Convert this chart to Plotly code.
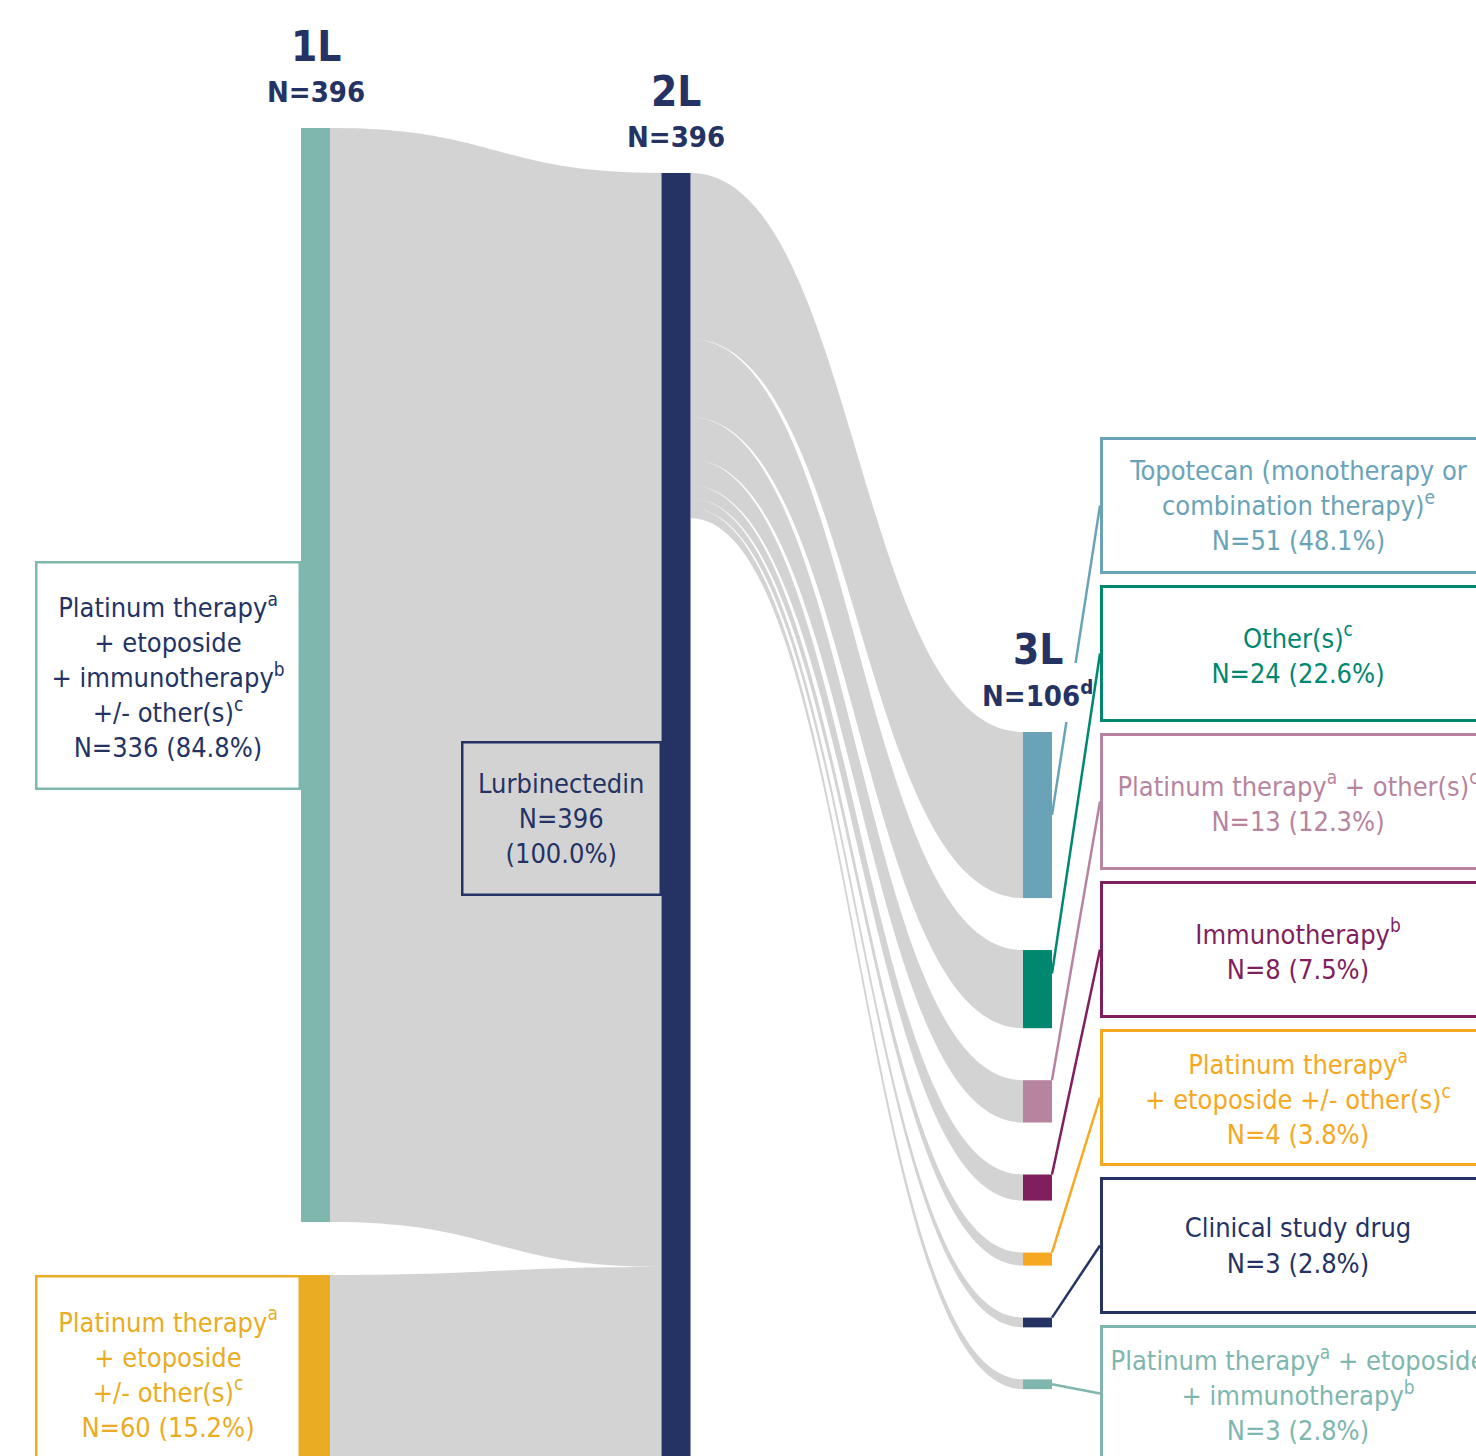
import plotly.graph_objects as go

# ---------------- data ----------------
line_titles = ["1L", "2L", "3L"]

first_line_labels = [
    "Platinum therapy<sup>a</sup><br>+ etoposide<br>+ immunotherapy<sup>b</sup><br>+/- other(s)<sup>c</sup>",
    "Platinum therapy<sup>a</sup><br>+ etoposide<br>+/- other(s)<sup>c</sup>",
]
first_line_n = [336, 60]

second_line_label = "Lurbinectedin"
second_line_n = 396

third_line_labels = [
    "Topotecan (monotherapy or<br>combination therapy)<sup>e</sup>",
    "Other(s)<sup>c</sup>",
    "Platinum therapy<sup>a</sup> + other(s)<sup>c</sup>",
    "Immunotherapy<sup>b</sup>",
    "Platinum therapy<sup>a</sup><br>+ etoposide +/- other(s)<sup>c</sup>",
    "Clinical study drug",
    "Platinum therapy<sup>a</sup> + etoposide<br>+ immunotherapy<sup>b</sup>",
]
third_line_n = [51, 24, 13, 8, 4, 3, 3]
third_line_note = "d"

# ---------------- styling ----------------
W, H = 1476, 1456
FONT = "DejaVu Sans Condensed, DejaVu Sans, sans-serif"
TEXT_SIZE = 27
NAVY = "#243364"
TEAL = "#7fb6ae"
ORANGE = "#e9ac22"
LINK_GREY = "rgba(117,119,119,0.32)"

first_colors = [TEAL, ORANGE]
first_text_colors = [NAVY, ORANGE]
third_colors = ["#6aa3b8", "#00876f", "#b7849f", "#801f5e", "#f6a823", NAVY, TEAL]

ky = 3.256            # pixels per patient
node_w = 29
col_cx = [315.5, 676.0, 1037.5]
col_top = [128.0, 173.0, 732.0]
col_gap = [53.0, 0.0, 52.0]
pad = 20.0
Hd = 396 * ky + pad   # sankey domain height (px)


def fx(x):
    return x / W


def fy(y):
    return 1 - y / H


def stack(values, top, gap):
    """Top/bottom pixel extents of a column of nodes stacked from `top`."""
    out, y = [], top
    for v in values:
        out.append((y, y + v * ky))
        y += v * ky + gap
    return out


def pct(n, total):
    return f"N={n} ({100 * n / total:.1f}%)"


col0 = stack(first_line_n, col_top[0], col_gap[0])
col1 = stack([second_line_n], col_top[1], col_gap[1])
col2 = stack(third_line_n, col_top[2], col_gap[2])

node_ext = col0 + col1 + col2
node_cx = [col_cx[0]] * len(col0) + [col_cx[1]] + [col_cx[2]] * len(col2)
node_colors = first_colors + [NAVY] + third_colors

n1 = len(first_line_n)
src = list(range(n1)) + [n1] * len(third_line_n)
tgt = [n1] * n1 + [n1 + 1 + i for i in range(len(third_line_n))]
val = first_line_n + third_line_n

fig = go.Figure(
    go.Sankey(
        arrangement="fixed",
        domain=dict(x=[0, 1], y=[1 - Hd / H, 1]),
        node=dict(
            label=[""] * len(node_ext),
            x=[cx / W for cx in node_cx],
            y=[((a + b) / 2) / Hd for a, b in node_ext],
            color=node_colors,
            thickness=node_w,
            pad=pad,
            line=dict(width=0),
        ),
        link=dict(source=src, target=tgt, value=val, color=LINK_GREY,
                  line=dict(width=0)),
        hoverinfo="none",
    )
)

annotations = []
shapes = []


def box(left, top, right, bottom, text, border, textcolor, size=TEXT_SIZE, bw=2.5, bg="white"):
    annotations.append(dict(
        xref="paper", yref="paper", x=fx(left), y=fy(top),
        xanchor="left", yanchor="top",
        width=(right - left) - 2 * bw, height=(bottom - top) - 2 * bw,
        text=text, showarrow=False, align="center", valign="middle",
        bordercolor=border, borderwidth=bw, borderpad=0, bgcolor=bg,
        font=dict(family=FONT, size=size, color=textcolor),
    ))


def seg(x0, y0, x1, y1, color):
    shapes.append(dict(
        type="line", xref="paper", yref="paper", layer="below",
        x0=fx(x0), y0=fy(y0), x1=fx(x1), y1=fy(y1),
        line=dict(color=color, width=2.5)))


# column headers
totals = [sum(first_line_n), second_line_n, sum(third_line_n)]
head_y = [(46, 92), (91, 137), (649, 694)]
for i, title in enumerate(line_titles):
    annotations.append(dict(
        xref="paper", yref="paper", x=fx(col_cx[i]), y=fy(head_y[i][0]),
        xanchor="center", yanchor="middle", showarrow=False,
        text=f"<b>{title}</b>", font=dict(family=FONT, size=42, color=NAVY)))
    ntext = f"<b>N={totals[i]}</b>"
    if i == 2:
        ntext = f"<b>N={totals[i]}<sup>{third_line_note}</sup></b>"
    annotations.append(dict(
        xref="paper", yref="paper", x=fx(col_cx[i]), y=fy(head_y[i][1]),
        xanchor="center", yanchor="middle", showarrow=False,
        text=ntext, font=dict(family=FONT, size=29, color=NAVY)))

# clear zone around the 3L header that connector lines skip
mask_x, mask_y = (985, 1090), (663, 722)

# first-line boxes (centred on their nodes)
box_left0, box_right0 = 35, col_cx[0] - node_w / 2
box_h0 = [229, 195]
for i, (a, b) in enumerate(col0):
    c = (a + b) / 2
    box(box_left0, c - box_h0[i] / 2, box_right0, c + box_h0[i] / 2,
        f"{first_line_labels[i]}<br>{pct(first_line_n[i], sum(first_line_n))}",
        first_colors[i], first_text_colors[i])

# second-line box
c1 = (col1[0][0] + col1[0][1]) / 2
box(461, c1 - 77, col_cx[1] - node_w / 2, c1 + 78,
    f"{second_line_label}<br>N={second_line_n}<br>({100 * second_line_n / sum(first_line_n):.1f}%)",
    NAVY, NAVY, bg="rgba(0,0,0,0)")

# third-line boxes and connectors
rb_left, rb_right, rb_top, rb_pitch, rb_h = 1100, 1496, 437, 148, 137
anchor_frac = [0.5, 0.3, 0, 0, 0, 0, 0.5]
total3 = sum(third_line_n)
for i, lab in enumerate(third_line_labels):
    top = rb_top + i * rb_pitch
    box(rb_left, top, rb_right, top + rb_h,
        f"{lab}<br>{pct(third_line_n[i], total3)}",
        third_colors[i], third_colors[i], bw=3)
    a, b = col2[i]
    xa, ya = col_cx[2] + node_w / 2, a + anchor_frac[i] * (b - a)
    xb, yb = rb_left, top + rb_h / 2

    def x_at(y):
        return xa + (xb - xa) * (y - ya) / (yb - ya)

    lo, hi = mask_y
    if yb < lo and ya > hi and mask_x[0] <= x_at(hi) <= mask_x[1] and mask_x[0] <= x_at(lo) <= mask_x[1]:
        seg(xa, ya, x_at(hi), hi, third_colors[i])
        seg(x_at(lo), lo, xb, yb, third_colors[i])
    else:
        seg(xa, ya, xb, yb, third_colors[i])

fig.update_layout(
    width=W, height=H,
    margin=dict(l=0, r=0, t=0, b=0),
    paper_bgcolor="white",
    font=dict(family=FONT),
    annotations=annotations,
    shapes=shapes,
)

fig.write_html("out.html")
